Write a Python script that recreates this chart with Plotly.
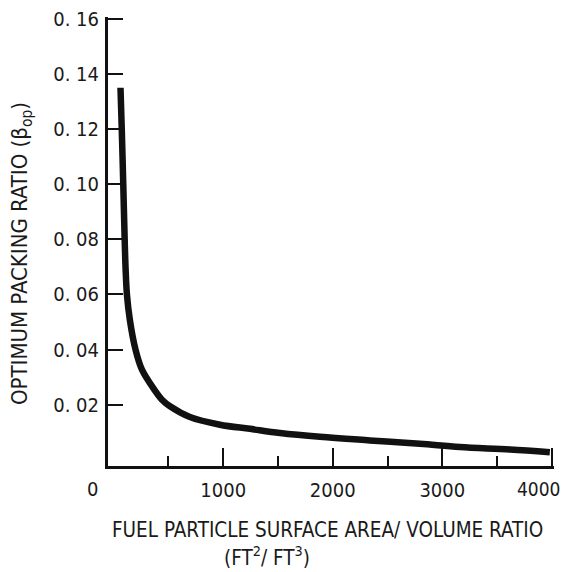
import plotly.graph_objects as go

# Data
surface_volume_ratio = [62, 73, 87, 100, 109, 121, 147, 199, 258, 377, 441, 514, 696,
                        970, 1244, 1518, 1883, 2339, 2795, 3160, 3617, 3982]
optimum_packing_ratio = [0.1351, 0.1210, 0.1006, 0.0803, 0.0690, 0.0599, 0.0509, 0.0400,
                         0.0327, 0.0251, 0.0218, 0.0194, 0.0155, 0.0127, 0.0112, 0.0097,
                         0.0083, 0.0070, 0.0058, 0.0046, 0.0037, 0.0027]

y_tick_vals = [0.02, 0.04, 0.06, 0.08, 0.10, 0.12, 0.14, 0.16]
y_tick_text = ["0. 02", "0. 04", "0. 06", "0. 08", "0. 10", "0. 12", "0. 14", "0. 16"]
x_major_ticks = [1000, 2000, 3000, 4000]
x_major_text = ["1000", "2000", "3000", ""]   # last label drawn as annotation (edge)
x_last_label = "4000"
x_minor_ticks = [500, 1500, 2500, 3500]

FONT = "DejaVu Sans Condensed, Liberation Sans Narrow, sans-serif"

# page body has an 8px margin: compensate so the chart lands where the reference has it
OFF = 8
W, H = 570 - OFF, 572 - OFF
L, R, T, B = 108 - OFF, 16, 17 - OFF, 106
plot_w = W - L - R
plot_h = H - T - B


def px_x(px):
    return (px - 108) / plot_w


def px_y(py):
    return (466 - py) / plot_h


fig = go.Figure()
fig.add_trace(go.Scatter(
    x=surface_volume_ratio, y=optimum_packing_ratio,
    mode="lines", line=dict(color="#111111", width=6.5, shape="spline", smoothing=1.0),
    hoverinfo="skip", showlegend=False,
))

fig.update_layout(
    width=W, height=H,
    margin=dict(l=L, r=R, t=T, b=B, autoexpand=False),
    paper_bgcolor="white", plot_bgcolor="white",
    font=dict(family=FONT, color="#1a1a1a", size=20),
    xaxis=dict(
        range=[-52, 4020], showgrid=False, zeroline=False,
        showline=True, linecolor="#111111", linewidth=3,
        tickmode="array", tickvals=x_major_ticks, ticktext=x_major_text,
        ticks="inside", ticklen=18, tickwidth=1.8, tickcolor="#111111",
        tickfont=dict(family=FONT, size=20), ticklabelstandoff=4,
        ticklabeloverflow="allow",
        minor=dict(tickmode="array", tickvals=x_minor_ticks, ticks="inside",
                   ticklen=10, tickwidth=1.5, tickcolor="#111111"),
    ),
    yaxis=dict(
        range=[-0.0023, 0.1608], showgrid=False, zeroline=False,
        showline=True, linecolor="#111111", linewidth=3,
        tickmode="array", tickvals=y_tick_vals, ticktext=y_tick_text,
        ticks="inside", ticklen=15, tickwidth=1.5, tickcolor="#111111",
        tickfont=dict(family=FONT, size=20), ticklabelstandoff=2,
        ticklabeloverflow="allow",
    ),
    annotations=[
        dict(text="0", xref="paper", yref="paper", x=px_x(92), y=px_y(489),
             showarrow=False, xanchor="center", yanchor="middle",
             font=dict(family=FONT, size=20)),
        dict(text=x_last_label, xref="paper", yref="paper", x=px_x(539), y=px_y(489),
             showarrow=False, xanchor="center", yanchor="middle",
             font=dict(family=FONT, size=19)),
        dict(text="FUEL PARTICLE SURFACE AREA/ VOLUME RATIO", xref="paper", yref="paper",
             x=px_x(327), y=px_y(530), showarrow=False,
             xanchor="center", yanchor="middle", font=dict(family=FONT, size=20.5)),
        dict(text="(FT<sup>2</sup>/ FT<sup>3</sup>)", xref="paper", yref="paper",
             x=px_x(267), y=px_y(556), showarrow=False,
             xanchor="center", yanchor="middle", font=dict(family=FONT, size=20.5)),
        dict(text="OPTIMUM PACKING RATIO (β<sub>op</sub>)", xref="paper", yref="paper",
             x=px_x(22), y=px_y(254), showarrow=False, textangle=-90,
             xanchor="center", yanchor="middle", font=dict(family=FONT, size=22)),
    ],
)

fig.write_html("out.html")
